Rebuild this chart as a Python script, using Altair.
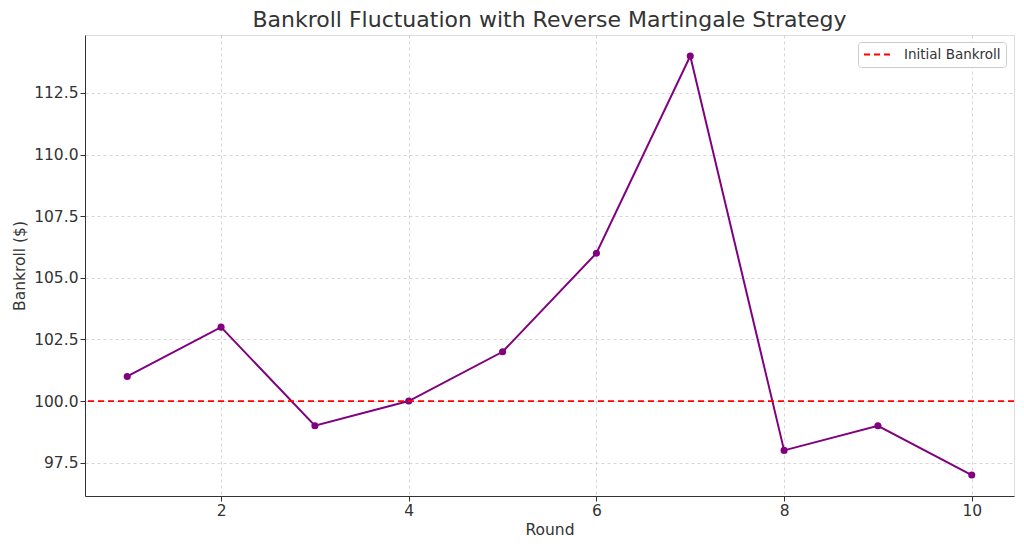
import altair as alt
import pandas as pd

rounds = [1, 2, 3, 4, 5, 6, 7, 8, 9, 10]
bankroll = [101, 103, 99, 100, 102, 106, 114, 98, 99, 97]
initial_bankroll = 100
x_ticks = [2, 4, 6, 8, 10]
y_ticks = [97.5, 100.0, 102.5, 105.0, 107.5, 110.0, 112.5]

df = pd.DataFrame({"Round": rounds, "Bankroll": bankroll})
ref = pd.DataFrame({"Bankroll": [initial_bankroll], "label": ["Initial Bankroll"]})

FONT = "DejaVu Sans"
TXT = "#333333"
FS = 15.5

x_scale = alt.Scale(domain=[0.55, 10.45], nice=False, zero=False)
y_scale = alt.Scale(domain=[96.15, 114.85], nice=False, zero=False)

x_axis = alt.Axis(values=x_ticks, format="d", title="Round", grid=True,
                  gridDash=[3, 3], gridColor="#cccccc", gridWidth=0.8,
                  labelFontSize=FS, titleFontSize=FS, labelFont=FONT, titleFont=FONT,
                  labelColor=TXT, titleColor=TXT, tickColor=TXT, domainColor=TXT,
                  tickSize=5, labelPadding=2, titlePadding=4, titleFontWeight="normal")
y_axis = alt.Axis(values=y_ticks, format=".1f", title="Bankroll ($)", grid=True,
                  gridDash=[3, 3], gridColor="#cccccc", gridWidth=0.8,
                  labelFontSize=FS, titleFontSize=FS, labelFont=FONT, titleFont=FONT,
                  labelColor=TXT, titleColor=TXT, tickColor=TXT, domainColor=TXT,
                  tickSize=5, labelPadding=2, titlePadding=6, titleFontWeight="normal")

line = alt.Chart(df).mark_line(color="#800080", strokeWidth=2).encode(
    x=alt.X("Round:Q", scale=x_scale, axis=x_axis),
    y=alt.Y("Bankroll:Q", scale=y_scale, axis=y_axis),
)
pts = alt.Chart(df).mark_point(filled=True, color="#800080", size=50, opacity=1).encode(
    x=alt.X("Round:Q", scale=x_scale),
    y=alt.Y("Bankroll:Q", scale=y_scale),
)
rule = alt.Chart(ref).mark_rule(strokeDash=[6, 4], strokeWidth=1.8).encode(
    y=alt.Y("Bankroll:Q", scale=y_scale),
    color=alt.Color("label:N", scale=alt.Scale(range=["#ff0000"]),
                    legend=alt.Legend(title=None, orient="none", legendX=773, legendY=7,
                                      symbolType="stroke", symbolDash=[6, 4],
                                      symbolStrokeWidth=2, symbolSize=784,
                                      clipHeight=15,
                                      strokeColor="#cccccc", fillColor="white",
                                      cornerRadius=3, padding=5, labelOffset=11,
                                      labelFont=FONT, labelFontSize=13.5, labelColor=TXT)),
)

chart = alt.layer(line, pts, rule).properties(
    width=929, height=461,
    title=alt.Title("Bankroll Fluctuation with Reverse Martingale Strategy",
                    font=FONT, fontSize=22, fontWeight="normal", color=TXT,
                    anchor="middle", offset=3),
    autosize=alt.AutoSizeParams(type="none"),
    padding={"left": 77, "top": 27, "right": 2, "bottom": 46},
).configure_view(stroke=None).configure(background="white")

chart.save("out.html", embed_options={"renderer": "svg", "actions": False})
